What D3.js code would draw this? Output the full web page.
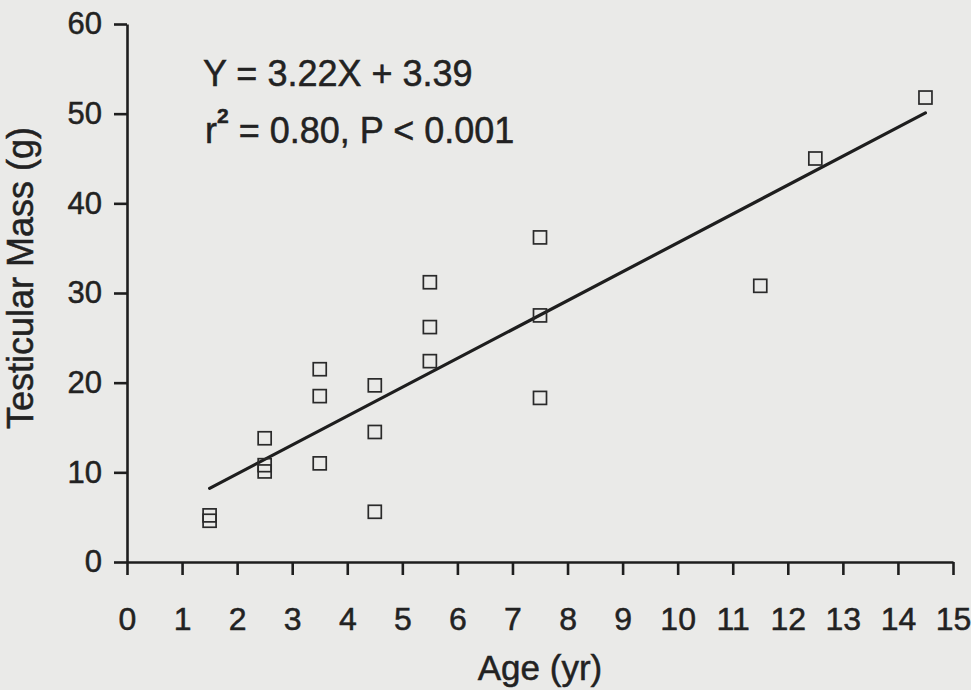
<!DOCTYPE html>
<html>
<head>
<meta charset="utf-8">
<script src="https://cdn.jsdelivr.net/npm/d3@7"></script>
<style>
  html, body { margin: 0; padding: 0; background: #eaeae8; }
  svg { display: block; }
  text { font-family: "Liberation Sans", Arial, sans-serif; fill: #222; stroke: #222; stroke-width: 0.5; }
</style>
</head>
<body>
<svg id="chart" width="971" height="690"></svg>
<script>
// Data
const ages = [1.5, 1.5, 2.5, 2.5, 2.5, 3.5, 3.5, 3.5, 4.5, 4.5, 4.5, 5.5, 5.5, 5.5, 7.5, 7.5, 7.5, 11.5, 12.5, 14.5];
const masses = [5.2, 4.6, 13.8, 10.8, 10.1, 21.5, 18.5, 11.0, 19.7, 14.5, 5.6, 31.2, 26.2, 22.4, 36.2, 27.5, 18.3, 30.8, 45.0, 51.8];
const slope = 3.22, intercept = 3.39;
const fitRange = [1.5, 14.5];
const xTicks = d3.range(0, 16, 1);
const yTicks = [0, 10, 20, 30, 40, 50, 60];
const eqLine1 = "Y = 3.22X + 3.39";
const eqLine2a = "r", eqLine2sup = "2", eqLine2b = " = 0.80, P < 0.001";

const svg = d3.select("#chart");
const x = d3.scaleLinear().domain([0, 15]).range([127, 953]);
const y = d3.scaleLinear().domain([0, 60]).range([562, 24]);

const ink = "#1e1e1e";

// X axis
const xAxis = d3.axisBottom(x).tickValues(xTicks).tickSize(13).tickPadding(32).tickSizeOuter(0).tickFormat(d3.format("d"));
const gx = svg.append("g").attr("transform", `translate(0,${y(0)})`).call(xAxis);
gx.select(".domain").attr("stroke", ink).attr("stroke-width", 2.6);
gx.selectAll(".tick line").attr("stroke", ink).attr("stroke-width", 2.6);
gx.selectAll(".tick text").attr("font-size", 32).attr("fill", "#222").style("font-family", "'Liberation Sans', Arial, sans-serif");

// Y axis
const yAxis = d3.axisLeft(y).tickValues(yTicks).tickSize(13).tickPadding(12).tickSizeOuter(0);
const gy = svg.append("g").attr("transform", `translate(${x(0)},0)`).call(yAxis);
gy.select(".domain").attr("stroke", ink).attr("stroke-width", 2.6);
gy.selectAll(".tick line").attr("stroke", ink).attr("stroke-width", 2.6);
gy.selectAll(".tick text").attr("font-size", 31).attr("fill", "#222").style("font-family", "'Liberation Sans', Arial, sans-serif");

// Regression line
svg.append("line")
  .attr("x1", x(fitRange[0])).attr("y1", y(slope * fitRange[0] + intercept))
  .attr("x2", x(fitRange[1])).attr("y2", y(slope * fitRange[1] + intercept))
  .attr("stroke", ink).attr("stroke-width", 3.2).attr("stroke-linecap", "round");

// Points (open squares)
const s = 13;
svg.append("g").selectAll("rect").data(ages.map((a, i) => [a, masses[i]])).join("rect")
  .attr("x", d => x(d[0]) - s / 2).attr("y", d => y(d[1]) - s / 2)
  .attr("width", s).attr("height", s)
  .attr("fill", "none").attr("stroke", "#2a2a2a").attr("stroke-width", 1.7);

// Annotation
svg.append("text").attr("x", 203).attr("y", 86).attr("font-size", 36).text(eqLine1);
const t2 = svg.append("text").attr("x", 205).attr("y", 143).attr("font-size", 36);
t2.append("tspan").text(eqLine2a);
t2.append("tspan").attr("font-size", 21).attr("font-weight", "bold").attr("dy", -20).text(eqLine2sup);
t2.append("tspan").attr("dy", 20).text(eqLine2b);

// Axis titles
svg.append("text").attr("x", (x(0) + x(15)) / 2).attr("y", 680).attr("text-anchor", "middle").attr("font-size", 35).text("Age (yr)");
svg.append("text").attr("transform", `translate(33,278) rotate(-90)`).attr("text-anchor", "middle").attr("font-size", 36).text("Testicular Mass (g)");
</script>
</body>
</html>
